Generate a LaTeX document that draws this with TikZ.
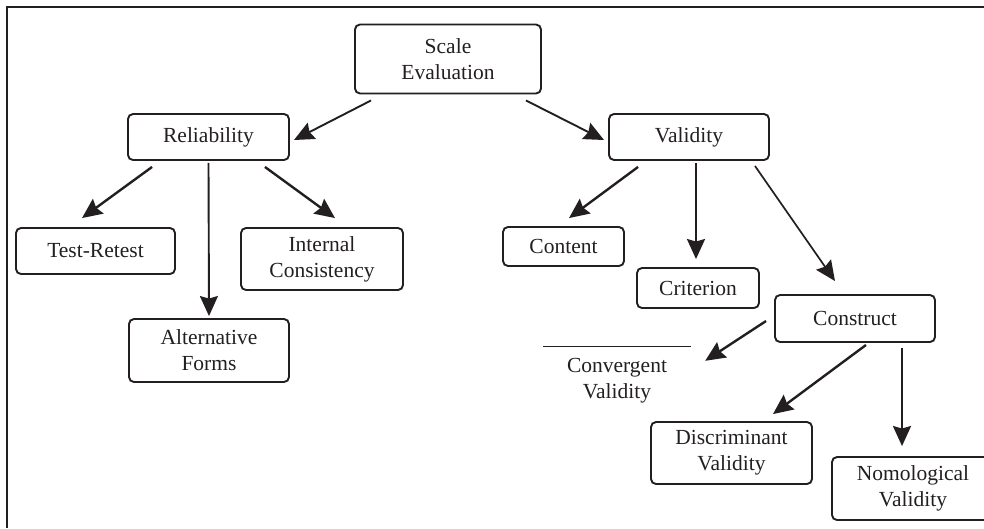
\documentclass[tikz,border=0pt]{standalone}
\usepackage{fontspec}
\setmainfont{Liberation Serif}
\usetikzlibrary{arrows.meta}
\definecolor{ink}{HTML}{231F20}
\begin{document}
\begin{tikzpicture}[x=1pt,y=-1pt,
  box/.style={draw=ink,line width=1.9pt,rounded corners=5pt,align=center,
    inner sep=0pt,text=ink,font=\fontsize{21.5}{26}\selectfont},
  plain/.style={align=center,inner sep=0pt,text=ink,font=\fontsize{21.5}{26}\selectfont},
  arr/.style={draw=ink,line width=2.4pt,-{Stealth[length=20pt,width=18pt,inset=2.5pt]}},
  thinarr/.style={arr,line width=1.7pt}]
\useasboundingbox (0,0) rectangle (984,528);
\begin{scope}
\clip (0,0) rectangle (984,528);
\draw[ink,line width=2.2pt] (984,7) -- (7,7) -- (7,528);

\node[box,minimum width=186pt,minimum height=69pt] (scale) at (448,59) {Scale\\Evaluation};
\node[box,minimum width=161pt,minimum height=46pt] (rel) at (208.5,137) {Reliability};
\node[box,minimum width=160pt,minimum height=46pt] (val) at (689,137) {Validity};
\node[box,minimum width=159pt,minimum height=46pt] (test) at (95.5,251) {Test-Retest};
\node[box,minimum width=162pt,minimum height=62pt] (int) at (322,259) {Internal\\Consistency};
\node[box,minimum width=160pt,minimum height=63pt] (alt) at (209,350.5) {Alternative\\Forms};
\node[box,minimum width=121pt,minimum height=39pt] (cont) at (563.5,246.5) {Content};
\node[box,minimum width=122pt,minimum height=40pt] (crit) at (698,288) {Criterion};
\node[box,minimum width=160pt,minimum height=47pt] (cons) at (855,318.5) {Construct};
\node[plain,minimum width=148pt,minimum height=68pt] (conv) at (617,381) {Convergent\\Validity};
\draw[ink,line width=1.3pt] (conv.north west) -- (conv.north east);
\node[box,minimum width=161pt,minimum height=62pt] (disc) at (731.5,453) {Discriminant\\Validity};
\node[box,minimum width=162pt,minimum height=63pt] (nomo) at (913,488.5) {Nomological\\Validity};

\draw[arr,line width=1.9pt] ([shift={(17,6)}]scale.south west) -- ([shift={(4,3)}]rel.east);
\draw[arr,line width=1.9pt] ([shift={(-16,6)}]scale.south east) -- ([shift={(-4,3)}]val.west);
\draw[arr] ([shift={(25,6)}]rel.south west) -- ([shift={(-13.5,-9)}]test.north);
\draw[arr,line width=1.9pt] ([shift={(0,2)}]rel.south) -- ([shift={(0,-2)}]alt.north);
\draw[arr] ([shift={(-25,6)}]rel.south east) -- ([shift={(13,-9)}]int.north);
\draw[arr] ([shift={(30,6)}]val.south west) -- ([shift={(5.5,-8)}]cont.north);
\draw[arr] ([shift={(7,2)}]val.south) -- ([shift={(-2,-8)}]crit.north);
\draw[thinarr] ([shift={(-15,5)}]val.south east) -- ([shift={(-20,-13)}]cons.north);
\draw[arr] ([shift={(-8,2.5)}]cons.west) -- ([shift={(14,14)}]conv.north east);
\draw[arr] ([shift={(11,2)}]cons.south) -- ([shift={(-40,-7)}]disc.north east);
\draw[arr] ([shift={(47,5)}]cons.south) -- ([shift={(-11,-10)}]nomo.north);
\end{scope}
\end{tikzpicture}
\end{document}
